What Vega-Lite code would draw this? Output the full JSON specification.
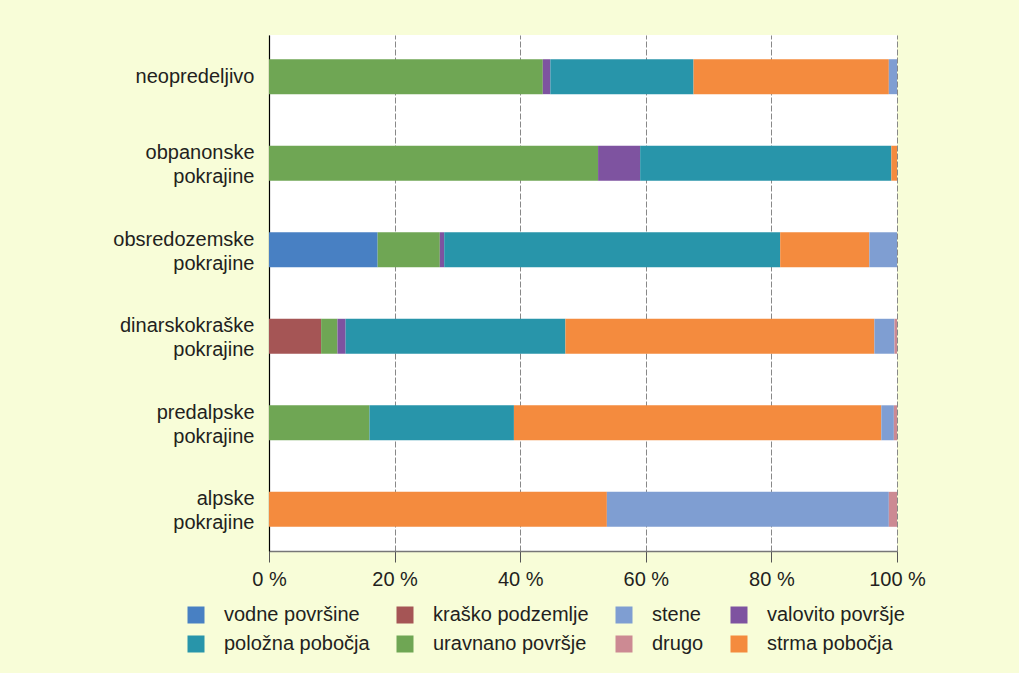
{
  "$schema": "https://vega.github.io/schema/vega-lite/v6.json",
  "autosize": {"type": "none"},
  "width": 628,
  "height": 516,
  "padding": {"left": 269, "top": 35, "right": 122, "bottom": 122},
  "background": "#F8FDD8",
  "data": {
    "values": [
      {"regija": "neopredeljivo", "tip": "uravnano površje", "delez": 43.6, "rang": 3},
      {"regija": "neopredeljivo", "tip": "valovito površje", "delez": 1.2, "rang": 4},
      {"regija": "neopredeljivo", "tip": "položna pobočja", "delez": 22.8, "rang": 5},
      {"regija": "neopredeljivo", "tip": "strma pobočja", "delez": 31.1, "rang": 6},
      {"regija": "neopredeljivo", "tip": "stene", "delez": 1.3, "rang": 7},
      {"regija": "obpanonske pokrajine", "tip": "uravnano površje", "delez": 52.4, "rang": 3},
      {"regija": "obpanonske pokrajine", "tip": "valovito površje", "delez": 6.7, "rang": 4},
      {"regija": "obpanonske pokrajine", "tip": "položna pobočja", "delez": 40.0, "rang": 5},
      {"regija": "obpanonske pokrajine", "tip": "strma pobočja", "delez": 0.9, "rang": 6},
      {"regija": "obsredozemske pokrajine", "tip": "vodne površine", "delez": 17.3, "rang": 1},
      {"regija": "obsredozemske pokrajine", "tip": "uravnano površje", "delez": 9.9, "rang": 3},
      {"regija": "obsredozemske pokrajine", "tip": "valovito površje", "delez": 0.7, "rang": 4},
      {"regija": "obsredozemske pokrajine", "tip": "položna pobočja", "delez": 53.5, "rang": 5},
      {"regija": "obsredozemske pokrajine", "tip": "strma pobočja", "delez": 14.2, "rang": 6},
      {"regija": "obsredozemske pokrajine", "tip": "stene", "delez": 4.4, "rang": 7},
      {"regija": "dinarskokraške pokrajine", "tip": "kraško podzemlje", "delez": 8.3, "rang": 2},
      {"regija": "dinarskokraške pokrajine", "tip": "uravnano površje", "delez": 2.6, "rang": 3},
      {"regija": "dinarskokraške pokrajine", "tip": "valovito površje", "delez": 1.3, "rang": 4},
      {"regija": "dinarskokraške pokrajine", "tip": "položna pobočja", "delez": 35.0, "rang": 5},
      {"regija": "dinarskokraške pokrajine", "tip": "strma pobočja", "delez": 49.2, "rang": 6},
      {"regija": "dinarskokraške pokrajine", "tip": "stene", "delez": 3.2, "rang": 7},
      {"regija": "dinarskokraške pokrajine", "tip": "drugo", "delez": 0.4, "rang": 8},
      {"regija": "predalpske pokrajine", "tip": "uravnano površje", "delez": 16.0, "rang": 3},
      {"regija": "predalpske pokrajine", "tip": "položna pobočja", "delez": 23.0, "rang": 5},
      {"regija": "predalpske pokrajine", "tip": "strma pobočja", "delez": 58.5, "rang": 6},
      {"regija": "predalpske pokrajine", "tip": "stene", "delez": 2.0, "rang": 7},
      {"regija": "predalpske pokrajine", "tip": "drugo", "delez": 0.5, "rang": 8},
      {"regija": "alpske pokrajine", "tip": "strma pobočja", "delez": 53.8, "rang": 6},
      {"regija": "alpske pokrajine", "tip": "stene", "delez": 44.9, "rang": 7},
      {"regija": "alpske pokrajine", "tip": "drugo", "delez": 1.3, "rang": 8}
    ]
  },
  "mark": {"type": "bar"},
  "encoding": {
    "y": {
      "field": "regija",
      "type": "nominal",
      "sort": ["neopredeljivo", "obpanonske pokrajine", "obsredozemske pokrajine", "dinarskokraške pokrajine", "predalpske pokrajine", "alpske pokrajine"],
      "scale": {"paddingInner": 0.596, "paddingOuter": 0.28},
      "axis": {
        "title": null,
        "ticks": false,
        "labelExpr": "split(datum.label, ' ')",
        "labelLineHeight": 24,
        "labelOffset": {"condition": {"test": "datum.label == 'neopredeljivo'", "value": 0}, "value": -10},
        "labelPadding": 15,
        "labelFontSize": 20,
        "domainColor": "#000000",
        "domainWidth": 1.2
      }
    },
    "x": {
      "field": "delez",
      "type": "quantitative",
      "stack": "zero",
      "scale": {"domain": [0, 100], "nice": false},
      "axis": {
        "title": null,
        "values": [0, 20, 40, 60, 80, 100],
        "labelExpr": "datum.value + ' %'",
        "labelFontSize": 20,
        "labelAlign": "center",
        "labelFlush": false,
        "labelPadding": 7,
        "tickSize": 11,
        "tickColor": "#555555",
        "domainColor": "#777777",
        "domainWidth": 1.5,
        "grid": true,
        "gridColor": "#888888",
        "gridDash": [6, 2],
        "gridWidth": 1
      }
    },
    "color": {
      "field": "tip",
      "type": "nominal",
      "scale": {
        "domain": ["vodne površine", "kraško podzemlje", "stene", "valovito površje", "položna pobočja", "uravnano površje", "drugo", "strma pobočja"],
        "range": ["#4880C3", "#A55555", "#7F9ED2", "#7E53A0", "#2895AA", "#6FA654", "#CC8A93", "#F48B3E"]
      },
      "legend": {
        "title": null,
        "orient": "none",
        "legendX": -83,
        "legendY": 570,
        "columns": 4,
        "direction": "horizontal",
        "symbolType": "square",
        "symbolSize": 289,
        "symbolStrokeWidth": 0,
        "symbolOpacity": 1,
        "labelFontSize": 20,
        "labelOffset": 18,
        "columnPadding": 25,
        "rowPadding": 9,
        "padding": 0
      }
    },
    "order": {"field": "rang", "type": "quantitative", "sort": "ascending"}
  },
  "config": {
    "font": "Liberation Sans",
    "view": {"fill": "#FFFFFF", "stroke": null},
    "axis": {"labelColor": "#231F20", "labelFont": "Liberation Sans"},
    "legend": {"labelColor": "#231F20", "labelFont": "Liberation Sans"}
  }
}
